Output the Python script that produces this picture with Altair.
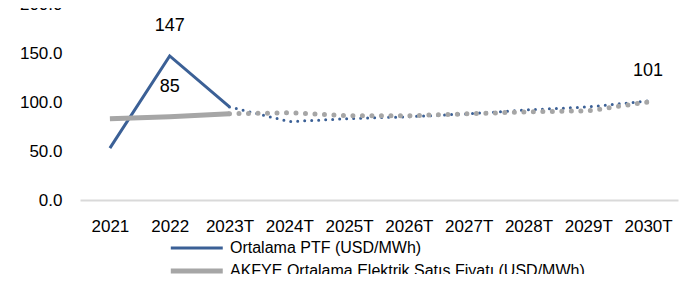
import altair as alt
import pandas as pd

years = ["2021", "2022", "2023T", "2024T", "2025T", "2026T", "2027T", "2028T", "2029T", "2030T"]
ptf = [53, 147, 95, 80, 83, 85, 88, 92, 95, 101]
akfye = [83, 85, 88, 89, 86, 86, 88, 90, 91, 100]
series_names = ["Ortalama PTF (USD/MWh)", "AKFYE Ortalama Elektrik Satış Fiyatı (USD/MWh)"]
label_points = [("2022", 147, "147", 0), ("2022", 85, "85", 1), ("2030T", 101, "101", 0)]

rows = []
for i, y in enumerate(years):
    rows.append({"year": y, "idx": i, "value": ptf[i], "series": series_names[0]})
    rows.append({"year": y, "idx": i, "value": akfye[i], "series": series_names[1]})
df = pd.DataFrame(rows)
lab = pd.DataFrame([{"year": a, "value": b, "text": c, "series": series_names[d]} for a, b, c, d in label_points])

FONT = "Liberation Sans"
colors = ["#3B6096", "#A6A6A6"]

x = alt.X("year:N", sort=years, title=None,
          axis=alt.Axis(labelAngle=0, labelFontSize=17, labelFont=FONT, labelColor="#000",
                        ticks=False, domainColor="#D9D9D9", domainWidth=2, labelPadding=18))
y = alt.Y("value:Q", scale=alt.Scale(domain=[0, 200]), title=None,
          axis=alt.Axis(values=[0, 50, 100, 150, 200], format=".1f", labelFontSize=17, labelFont=FONT,
                        labelColor="#000", grid=False, domain=False, ticks=False, labelPadding=18))
color = alt.Color("series:N", sort=series_names, scale=alt.Scale(domain=series_names, range=colors),
                  title=None,
                  legend=alt.Legend(orient="none", legendX=88, legendY=236, direction="vertical",
                                    symbolType="M-1,0H9", symbolSize=108, labelFontSize=16,
                                    labelFont=FONT, labelColor="#000", rowPadding=5, labelOffset=46,
                                    labelLimit=600))
sw = alt.StrokeWidth("series:N", sort=series_names,
                     scale=alt.Scale(domain=series_names, range=[3, 5]), legend=None)
dash = alt.StrokeDash("series:N", sort=series_names,
                      scale=alt.Scale(domain=series_names, range=[[0, 7], [0, 9.5]]), legend=None)

solid = alt.Chart(df).transform_filter("datum.idx <= 2").mark_line(strokeCap="butt").encode(
    x=x, y=y, color=color, strokeWidth=sw, detail="series:N")
dotted = alt.Chart(df).transform_filter("datum.idx >= 2").mark_line(strokeCap="round").encode(
    x=x, y=y, color=alt.Color("series:N", scale=alt.Scale(domain=series_names, range=colors), legend=None),
    strokeWidth=sw, strokeDash=dash, detail="series:N")
text = alt.Chart(lab).mark_text(dy=-30, fontSize=18, font=FONT, color="#000").encode(
    x=x, y=y, text="text:N")

chart = alt.layer(solid, dotted, text).properties(
    width=598, height=196,
    autosize=alt.AutoSizeParams(type="none"),
    padding={"left": 72, "top": -4, "right": 13, "bottom": 74},
).resolve_scale(strokeDash="independent").configure_view(stroke=None)

chart.save("out.html", embed_options={"renderer": "svg", "actions": False})
